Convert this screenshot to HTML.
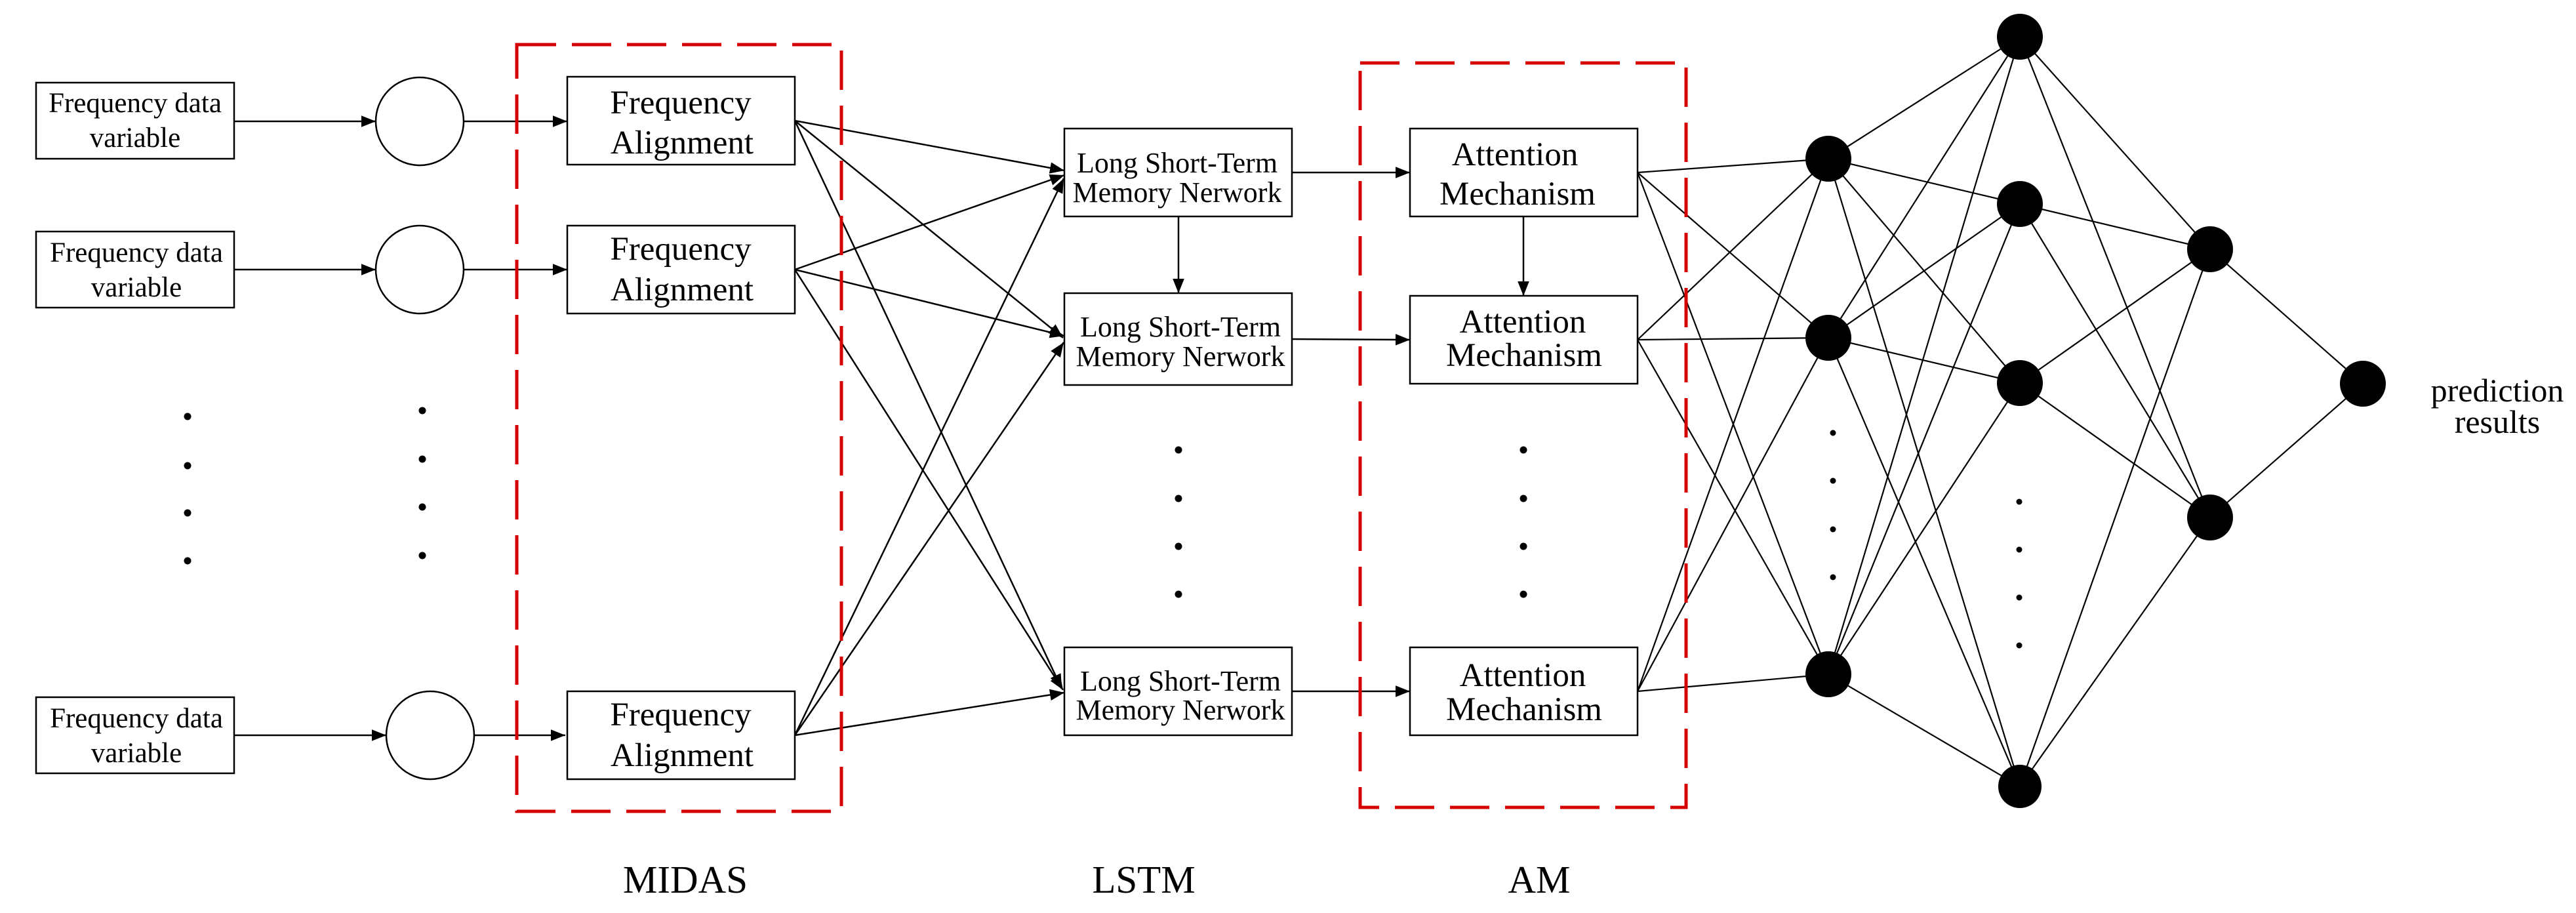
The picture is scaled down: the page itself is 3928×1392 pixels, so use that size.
<!DOCTYPE html>
<html><head><meta charset="utf-8"><style>html,body{margin:0;padding:0;background:#fff}svg{display:block}</style></head>
<body>
<svg width="3928" height="1392" viewBox="0 0 3928 1392" xmlns="http://www.w3.org/2000/svg" font-family="Liberation Serif, serif">
<defs>
<marker id="b" viewBox="0 0 10 8" refX="10" refY="4" markerWidth="22" markerHeight="18" orient="auto" markerUnits="userSpaceOnUse"><path d="M0,0 L10,4 L0,8 z" fill="#000"/></marker>
</defs>
<g stroke="#000" stroke-width="2.5" fill="none">
<rect x="55" y="126" width="302" height="116"/>
<rect x="55" y="353" width="302" height="116"/>
<rect x="55" y="1063" width="302" height="116"/>
<circle cx="640" cy="185" r="67"/>
<circle cx="640" cy="411" r="67"/>
<circle cx="656" cy="1121" r="67"/>
<line x1="357" y1="185" x2="573" y2="185" marker-end="url(#b)"/>
<line x1="357" y1="411" x2="573" y2="411" marker-end="url(#b)"/>
<line x1="357" y1="1121" x2="589" y2="1121" marker-end="url(#b)"/>
<line x1="707" y1="185" x2="865" y2="185" marker-end="url(#b)"/>
<line x1="707" y1="411" x2="865" y2="411" marker-end="url(#b)"/>
<line x1="723" y1="1121" x2="862" y2="1121" marker-end="url(#b)"/>
<rect x="865" y="117" width="347" height="134"/>
<rect x="865" y="344" width="347" height="134"/>
<rect x="865" y="1054" width="347" height="134"/>
<line x1="1212" y1="184" x2="1623" y2="260" marker-end="url(#b)"/>
<line x1="1212" y1="184" x2="1621" y2="515" marker-end="url(#b)"/>
<line x1="1212" y1="184" x2="1619" y2="1050" marker-end="url(#b)"/>
<line x1="1212" y1="411" x2="1623" y2="267" marker-end="url(#b)"/>
<line x1="1212" y1="411" x2="1623" y2="512" marker-end="url(#b)"/>
<line x1="1212" y1="411" x2="1621" y2="1052" marker-end="url(#b)"/>
<line x1="1212" y1="1121" x2="1622" y2="272" marker-end="url(#b)"/>
<line x1="1212" y1="1121" x2="1622" y2="522" marker-end="url(#b)"/>
<line x1="1212" y1="1121" x2="1623" y2="1056" marker-end="url(#b)"/>
<rect x="1623" y="196" width="347" height="134"/>
<rect x="1623" y="447" width="347" height="140"/>
<rect x="1623" y="987" width="347" height="134"/>
<line x1="1797" y1="330" x2="1797" y2="447" marker-end="url(#b)"/>
<line x1="1970" y1="263" x2="2150" y2="263" marker-end="url(#b)"/>
<line x1="1970" y1="517" x2="2150" y2="518" marker-end="url(#b)"/>
<line x1="1970" y1="1054" x2="2150" y2="1054" marker-end="url(#b)"/>
<rect x="2150" y="196" width="347" height="134"/>
<rect x="2150" y="451" width="347" height="134"/>
<rect x="2150" y="987" width="347" height="134"/>
<line x1="2323" y1="330" x2="2323" y2="451" marker-end="url(#b)"/>
<g stroke-width="2.2">
<line x1="2497" y1="263" x2="2788" y2="242"/><line x1="2497" y1="263" x2="2788" y2="515"/><line x1="2497" y1="263" x2="2788" y2="1028"/>
<line x1="2497" y1="518" x2="2788" y2="242"/><line x1="2497" y1="518" x2="2788" y2="515"/><line x1="2497" y1="518" x2="2788" y2="1028"/>
<line x1="2497" y1="1054" x2="2788" y2="242"/><line x1="2497" y1="1054" x2="2788" y2="515"/><line x1="2497" y1="1054" x2="2788" y2="1028"/>
<line x1="2788" y1="242" x2="3080" y2="56"/><line x1="2788" y1="242" x2="3080" y2="311"/><line x1="2788" y1="242" x2="3080" y2="584"/><line x1="2788" y1="242" x2="3080" y2="1199"/>
<line x1="2788" y1="515" x2="3080" y2="56"/><line x1="2788" y1="515" x2="3080" y2="311"/><line x1="2788" y1="515" x2="3080" y2="584"/><line x1="2788" y1="515" x2="3080" y2="1199"/>
<line x1="2788" y1="1028" x2="3080" y2="56"/><line x1="2788" y1="1028" x2="3080" y2="311"/><line x1="2788" y1="1028" x2="3080" y2="584"/><line x1="2788" y1="1028" x2="3080" y2="1199"/>
<line x1="3080" y1="56" x2="3370" y2="380"/><line x1="3080" y1="56" x2="3370" y2="789"/>
<line x1="3080" y1="311" x2="3370" y2="380"/><line x1="3080" y1="311" x2="3370" y2="789"/>
<line x1="3080" y1="584" x2="3370" y2="380"/><line x1="3080" y1="584" x2="3370" y2="789"/>
<line x1="3080" y1="1199" x2="3370" y2="380"/><line x1="3080" y1="1199" x2="3370" y2="789"/>
<line x1="3370" y1="380" x2="3603" y2="585"/><line x1="3370" y1="789" x2="3603" y2="585"/>
</g>
</g>
<g stroke="#d40000" stroke-width="5" fill="none" stroke-dasharray="60 24">
<rect x="788" y="68" width="495" height="1169"/>
<rect x="2074" y="96" width="497" height="1135"/>
</g>
<g fill="#000">
<circle cx="2788" cy="242" r="35"/><circle cx="2788" cy="515" r="35"/><circle cx="2788" cy="1028" r="35"/>
<circle cx="3080" cy="56" r="35"/><circle cx="3080" cy="311" r="35"/><circle cx="3080" cy="584" r="35"/><circle cx="3080" cy="1199" r="33"/>
<circle cx="3370" cy="380" r="35"/><circle cx="3370" cy="789" r="35"/>
<circle cx="3603" cy="585" r="35"/>
<circle cx="286" cy="635" r="5.5"/><circle cx="286" cy="710" r="5.5"/><circle cx="286" cy="782" r="5.5"/><circle cx="286" cy="855" r="5.5"/>
<circle cx="644" cy="626" r="5.5"/><circle cx="644" cy="700" r="5.5"/><circle cx="644" cy="773" r="5.5"/><circle cx="644" cy="847" r="5.5"/>
<circle cx="1797" cy="686" r="5.5"/><circle cx="1797" cy="760" r="5.5"/><circle cx="1797" cy="833" r="5.5"/><circle cx="1797" cy="906" r="5.5"/>
<circle cx="2323" cy="686" r="5.5"/><circle cx="2323" cy="760" r="5.5"/><circle cx="2323" cy="833" r="5.5"/><circle cx="2323" cy="906" r="5.5"/>
<circle cx="2795" cy="660" r="4.5"/><circle cx="2795" cy="733" r="4.5"/><circle cx="2795" cy="807" r="4.5"/><circle cx="2795" cy="880" r="4.5"/>
<circle cx="3079" cy="765" r="4.5"/><circle cx="3079" cy="838" r="4.5"/><circle cx="3079" cy="911" r="4.5"/><circle cx="3079" cy="984" r="4.5"/>
</g>
<g fill="#000" text-anchor="middle">
<g font-size="43">
<text x="206" y="171">Frequency data</text><text x="206" y="224">variable</text>
<text x="208" y="399">Frequency data</text><text x="208" y="452">variable</text>
<text x="208" y="1109">Frequency data</text><text x="208" y="1162">variable</text>
</g>
<g font-size="51">
<text x="1038" y="173">Frequency</text><text x="1040" y="234">Alignment</text>
<text x="1038" y="396">Frequency</text><text x="1040" y="458">Alignment</text>
<text x="1038" y="1106">Frequency</text><text x="1040" y="1168">Alignment</text>
</g>
<g font-size="44">
<text x="1795" y="263">Long Short-Term</text><text x="1795" y="308">Memory Nerwork</text>
<text x="1800" y="513">Long Short-Term</text><text x="1800" y="558">Memory Nerwork</text>
<text x="1800" y="1053">Long Short-Term</text><text x="1800" y="1097">Memory Nerwork</text>
</g>
<g font-size="51">
<text x="2310" y="252">Attention</text><text x="2314" y="312">Mechanism</text>
<text x="2322" y="507">Attention</text><text x="2324" y="558">Mechanism</text>
<text x="2322" y="1046">Attention</text><text x="2324" y="1098">Mechanism</text>
</g>
<g font-size="59">
<text x="1045" y="1361">MIDAS</text>
<text x="1744" y="1361">LSTM</text>
<text x="2347" y="1361">AM</text>
</g>
<g font-size="50">
<text x="3808" y="612">prediction</text><text x="3808" y="660">results</text>
</g>
</g>
</svg>
</body></html>
